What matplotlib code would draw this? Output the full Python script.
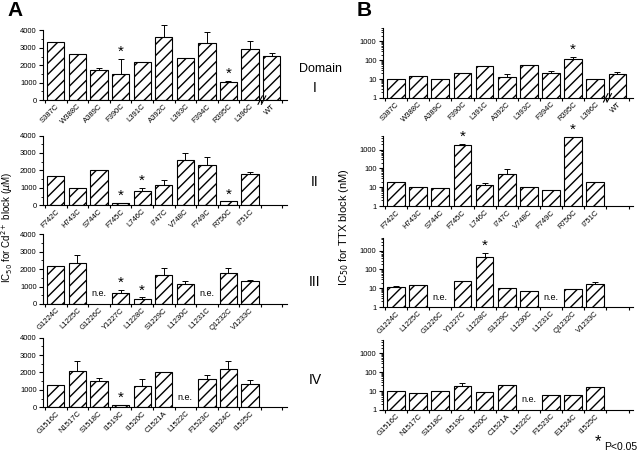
import numpy as np
import matplotlib
matplotlib.use("Agg")
import matplotlib.pyplot as plt
from matplotlib.ticker import FixedLocator, LogLocator, NullFormatter

plt.rcParams['font.family'] = ['Liberation Sans', 'DejaVu Sans']
plt.rcParams['hatch.linewidth'] = 1.0
plt.rcParams['hatch.color'] = '#222222'

# ---- data (nan = n.e., not expressed) ----
labels_1 = ["S387C", "W388C", "A389C", "F390C", "L391C", "A392C", "L393C", "F394C", "R395C", "L396C", "WT"]
labels_2 = ["F742C", "H743C", "S744C", "F745C", "L746C", "I747C", "V748C", "F749C", "R750C", "I751C"]
labels_3 = ["G1224C", "L1225C", "G1226C", "Y1227C", "L1228C", "S1229C", "L1230C", "L1231C", "Q1232C", "V1233C"]
labels_4 = ["G1516C", "N1517C", "S1518C", "I1519C", "I1520C", "C1521A", "L1522C", "F1523C", "E1524C", "I1525C"]

cd_1 = [3350, 2650, 1750, 1500, 2200, 3650, 2400, 3300, 1050, 2950, 2550]
cd_err_1 = [0, 0, 100, 850, 0, 650, 0, 600, 50, 450, 150]
cd_2 = [1700, 1000, 2000, 130, 800, 1150, 2600, 2300, 220, 1800]
cd_err_2 = [0, 0, 0, 0, 200, 300, 400, 450, 0, 100]
cd_3 = [2200, 2350, np.nan, 650, 300, 1650, 1150, np.nan, 1800, 1300]
cd_err_3 = [0, 450, 0, 150, 80, 400, 150, 0, 250, 50]
cd_4 = [1250, 2100, 1500, 150, 1200, 2000, np.nan, 1650, 2200, 1350]
cd_err_4 = [0, 550, 200, 0, 400, 0, 0, 220, 450, 200]

ttx_1 = [10, 14, 10.5, 22, 48, 13, 55, 22, 115, 10, 19]
ttx_err_1 = [0, 0, 0, 0, 0, 5, 0, 5, 35, 0, 5]
ttx_2 = [20, 10, 9.5, 1700, 14, 50, 10, 7, 4500, 18]
ttx_err_2 = [0, 0, 0, 300, 3, 45, 0, 0, 400, 2]
ttx_3 = [12, 15, np.nan, 23, 450, 10, 7, np.nan, 9.5, 18]
ttx_err_3 = [1.5, 0, 0, 0, 300, 0, 0, 0, 0, 3]
ttx_4 = [10, 7.5, 10, 18, 9.5, 20, np.nan, 6, 6, 16]
ttx_err_4 = [0, 0, 0, 9, 0, 0, 0, 0, 0, 0]

cd_sig = [[3, 8], [3, 4, 8], [3, 4], [3]]
ttx_sig = [[8], [3, 8], [4], []]

domains = ["I", "II", "III", "IV"]
all_labels = [labels_1, labels_2, labels_3, labels_4]
cd_vals = [cd_1, cd_2, cd_3, cd_4]
cd_errs = [cd_err_1, cd_err_2, cd_err_3, cd_err_4]
ttx_vals = [ttx_1, ttx_2, ttx_3, ttx_4]
ttx_errs = [ttx_err_1, ttx_err_2, ttx_err_3, ttx_err_4]


def draw_row(ax, labels, vals, errs, sig, log=False):
    vals = np.array(vals, dtype=float)
    errs = np.array(errs, dtype=float)
    x = np.arange(len(labels))
    ok = ~np.isnan(vals)
    ax.bar(x[ok], vals[ok], width=0.8, facecolor='white', edgecolor='black',
           hatch='///', linewidth=0.8, zorder=2)
    eb = ax.errorbar(x[ok], vals[ok], yerr=[np.zeros(ok.sum()), errs[ok]], fmt='none',
                     ecolor='black', elinewidth=0.7, capsize=2, capthick=0.7, zorder=1)
    for part in eb.lines[1] + eb.lines[2]:
        part.set_clip_on(False)
    base = 1 if log else 0
    for i in x[~ok]:
        ax.annotate("n.e.", (i, base), xytext=(0, 4), textcoords='offset points',
                    ha='center', va='bottom', fontsize=6.5)
    for i in sig:
        ax.annotate("*", (i, vals[i] + errs[i]), xytext=(0, 0), textcoords='offset points',
                    ha='center', va='bottom', fontsize=11)
    ax.set_xlim(-0.6, 10.7)
    ax.set_xticks(x)
    ax.set_xticklabels(labels, rotation=45, ha='right', rotation_mode='anchor', fontsize=5.5)
    ax.tick_params(axis='x', length=0, pad=2)
    ax.xaxis.set_minor_locator(FixedLocator(np.arange(-0.5, 11, 1.0)))
    ax.tick_params(axis='x', which='minor', length=2.5, width=0.8)
    ax.tick_params(axis='y', labelsize=5.5, width=0.8, length=3, pad=1.5)
    ax.tick_params(axis='y', which='minor', width=0.6, length=1.5)
    for s in ['top', 'right']:
        ax.spines[s].set_visible(False)
    for s in ['left', 'bottom']:
        ax.spines[s].set_linewidth(0.8)
    if log:
        ax.set_yscale('log')
        ax.set_ylim(1, 5000)
        ax.set_yticks([1, 10, 100, 1000])
        ax.set_yticklabels(["1", "10", "100", "1000"])
        ax.yaxis.set_minor_locator(LogLocator(base=10, subs=np.arange(2, 10)))
        ax.yaxis.set_minor_formatter(NullFormatter())
    else:
        ax.set_ylim(0, 4000)
        ax.set_yticks([0, 1000, 2000, 3000, 4000])
        ax.yaxis.set_minor_locator(FixedLocator(np.arange(500, 4000, 1000)))


def add_break(ax, pos):
    # small "//" mark on the x axis before WT
    for dx in (-0.08, 0.08):
        ax.plot([pos + dx - 0.1, pos + dx + 0.1], [-0.06, 0.06], transform=ax.get_xaxis_transform(),
                color='black', lw=0.8, clip_on=False, zorder=5)


fig = plt.figure(figsize=(6.4, 4.55), dpi=100)

a_bottoms = [0.780, 0.549, 0.332, 0.105]
b_bottoms = [0.785, 0.547, 0.325, 0.099]
dom_y = [0.807, 0.600, 0.380, 0.165]
height = 0.153

for r in range(4):
    axa = fig.add_axes([0.067, a_bottoms[r], 0.381, height])
    draw_row(axa, all_labels[r], cd_vals[r], cd_errs[r], cd_sig[r])
    axb = fig.add_axes([0.598, b_bottoms[r], 0.391, height])
    draw_row(axb, all_labels[r], ttx_vals[r], ttx_errs[r], ttx_sig[r], log=True)
    if r == 0:
        add_break(axa, 9.55)
        add_break(axb, 9.55)
    fig.text(0.492, dom_y[r], domains[r], ha='center', va='center', fontsize=10)

fig.text(0.5, 0.848, "Domain", ha='center', va='center', fontsize=9)
fig.text(0.012, 0.998, "A", fontsize=15, fontweight='bold', va='top')
fig.text(0.557, 0.998, "B", fontsize=15, fontweight='bold', va='top')
fig.text(0.011, 0.50, r"IC$_{50}$ for Cd$^{2+}$ block ($\mu$M)", rotation=90,
         ha='center', va='center', fontsize=7)
fig.text(0.537, 0.50, r"IC$_{50}$ for TTX block (nM)", rotation=90,
         ha='center', va='center', fontsize=8)
fig.text(0.934, 0.030, "*", fontsize=12, ha='center', va='center')
fig.text(0.944, 0.017, "P<0.05", fontsize=7.5, ha='left', va='center')

fig.savefig("out.png", dpi=100)
